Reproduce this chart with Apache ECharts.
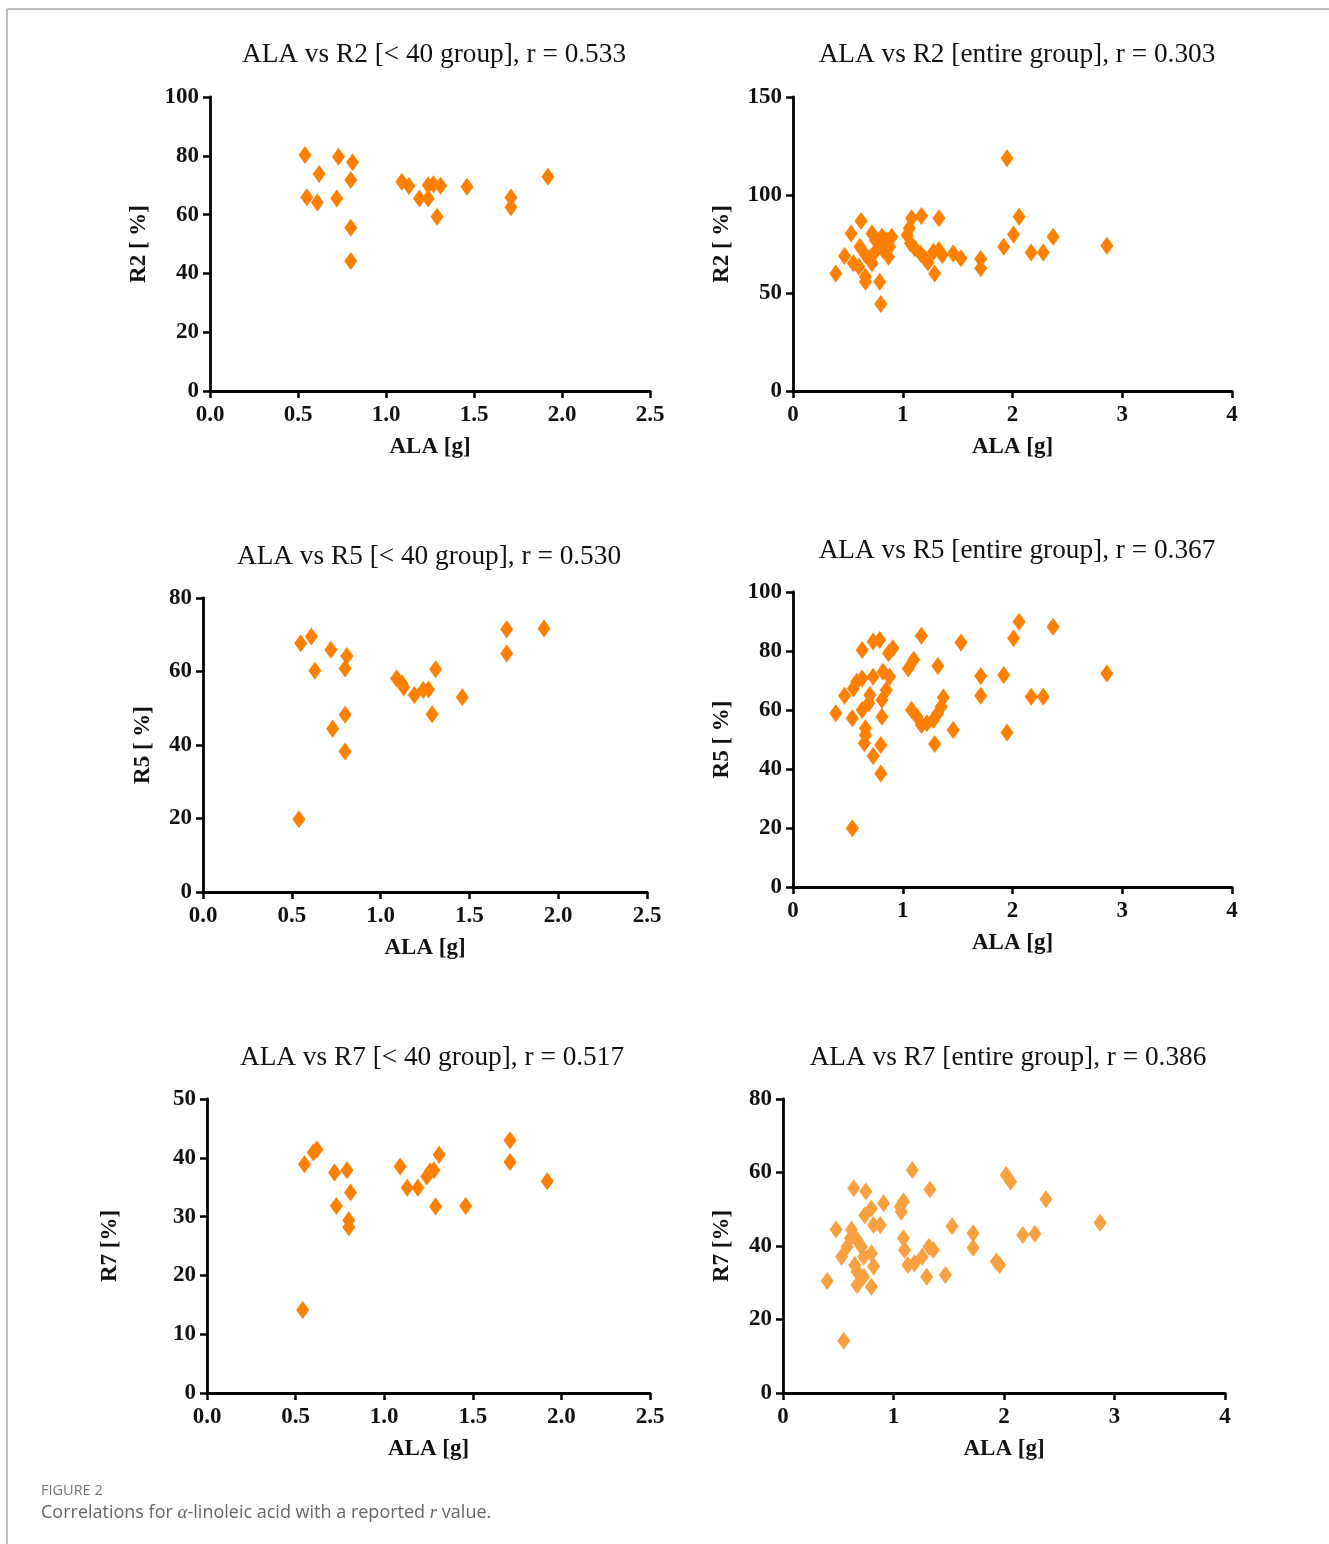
<!DOCTYPE html>
<html>
<head>
<meta charset="utf-8">
<script src="https://cdn.jsdelivr.net/npm/echarts@6/dist/echarts.min.js"></script>
<style>
html,body{margin:0;padding:0;background:#fff;}
#chart{width:1329px;height:1544px;}
</style>
</head>
<body>
<div id="chart"></div>
<script>
// ---- Data ----
// Panel 1: ALA vs R2 [< 40 group]
const ala_R2_lt40 = [0.54,0.73,0.81,0.62,0.80,0.55,0.61,0.72,0.80,0.80,1.09,1.13,1.19,1.24,1.24,1.27,1.31,1.29,1.46,1.71,1.71,1.92];
const r2_lt40     = [80.3,79.7,77.8,73.8,71.8,65.9,64.1,65.5,55.5,44.2,71.2,69.7,65.5,70.0,65.5,70.3,69.8,59.3,69.5,65.8,62.5,72.9];

// Panel 2: ALA vs R2 [entire group]
const ala_R2_all = [1.95,2.06,2.01,1.92,2.37,2.17,2.28,2.86,1.71,1.71,1.53,1.46,1.33,1.17,1.08,1.06,1.04,1.07,1.11,1.16,1.20,1.23,1.28,1.33,1.36,1.29,0.39,0.47,0.53,0.62,0.55,0.60,0.61,0.66,0.66,0.79,0.80,0.70,0.72,0.75,0.81,0.85,0.90,0.87,0.82,0.76,0.72,0.66,0.78,0.88];
const r2_all     = [118.7,88.9,79.9,73.6,78.7,70.6,70.6,74.1,67.3,62.6,67.7,70.2,88.1,89.3,88.1,83.0,79.6,75.4,72.8,70.2,67.7,65.5,71.1,71.9,69.4,60.0,60.0,68.9,80.4,86.7,65.2,63.4,73.6,58.3,55.8,55.8,44.4,67.7,80.4,77.0,78.7,77.0,78.7,68.5,71.9,71.9,65.2,69.4,75.4,73.6];

// Panel 3: ALA vs R5 [< 40 group]
const ala_R5_lt40 = [0.55,0.61,0.63,0.72,0.81,0.80,0.80,0.73,0.80,0.54,1.09,1.12,1.13,1.19,1.24,1.27,1.31,1.29,1.46,1.71,1.71,1.92];
const r5_lt40     = [67.7,69.5,60.2,65.9,64.2,60.8,48.2,44.4,38.2,19.8,58.1,56.8,55.7,53.6,55.0,55.1,60.6,48.4,53.0,71.5,64.9,71.7];

// Panel 4: ALA vs R5 [entire group]
const ala_R5_all = [2.06,2.01,2.37,2.86,1.92,1.71,1.71,2.17,2.28,1.95,1.53,1.17,1.32,1.10,1.05,1.37,1.46,1.29,1.08,1.13,1.17,1.22,1.28,1.32,1.35,0.39,0.47,0.54,0.63,0.73,0.79,0.87,0.91,0.58,0.63,0.55,0.73,0.82,0.88,0.70,0.85,0.81,0.69,0.63,0.81,0.66,0.66,0.65,0.80,0.73,0.80,0.54];
const r5_all     = [89.9,84.3,88.2,72.4,71.9,71.5,64.8,64.5,64.5,52.4,82.9,85.2,74.9,77.0,74.1,64.2,53.2,48.5,60.0,57.7,54.9,55.5,56.6,58.9,61.1,58.9,64.8,57.2,80.3,83.2,83.7,79.2,80.9,69.6,70.7,67.3,71.3,73.0,71.3,65.1,66.8,63.4,62.3,60.0,57.7,53.8,51.5,48.7,48.1,44.4,38.5,19.9];

// Panel 5: ALA vs R7 [< 40 group]
const ala_R7_lt40 = [0.62,0.60,0.55,0.72,0.79,0.81,0.73,0.80,0.80,0.54,1.09,1.13,1.19,1.24,1.26,1.28,1.31,1.29,1.46,1.71,1.71,1.92];
const r7_lt40     = [41.4,40.9,38.9,37.5,37.9,34.1,31.8,29.4,28.2,14.1,38.5,34.9,34.9,36.8,37.7,37.9,40.5,31.7,31.8,43.0,39.3,36.0];

// Panel 6: ALA vs R7 [entire group]
const ala_R7_all = [1.17,2.02,2.06,2.38,2.87,2.17,2.28,1.93,1.96,1.72,1.72,1.53,1.47,1.33,1.30,1.06,1.09,1.07,1.09,1.10,1.13,1.19,1.26,1.32,1.36,0.40,0.48,0.55,0.64,0.75,0.74,0.80,0.91,0.88,0.82,0.62,0.61,0.58,0.67,0.71,0.53,0.73,0.80,0.82,0.65,0.67,0.73,0.67,0.80];
const r7_all     = [60.7,59.3,57.5,52.7,46.3,43.0,43.3,35.8,34.8,43.5,39.5,45.4,32.1,55.4,31.6,50.7,52.1,49.3,42.1,38.9,34.8,35.3,37.1,39.8,38.9,30.5,44.5,14.2,55.7,54.8,48.4,50.2,51.6,45.7,45.7,44.4,42.1,39.8,41.6,39.8,37.1,37.1,38.0,34.4,34.8,33.0,31.6,29.4,28.9];

const titles = [
  "ALA vs R2 [< 40 group], r = 0.533",
  "ALA vs R2 [entire group], r = 0.303",
  "ALA vs R5 [< 40 group], r = 0.530",
  "ALA vs R5 [entire group], r = 0.367",
  "ALA vs R7 [< 40 group], r = 0.517",
  "ALA vs R7 [entire group], r = 0.386"
];
const yNames = ["R2 [ %]", "R2 [ %]", "R5 [ %]", "R5 [ %]", "R7 [%]", "R7 [%]"];
const xName = "ALA [g]";
const yMax = [100, 150, 80, 100, 50, 80];
const yStep = [20, 50, 20, 20, 10, 20];
const xMax = [2.5, 4, 2.5, 4, 2.5, 4];
const xStep = [0.5, 1, 0.5, 1, 0.5, 1];

const xs = [ala_R2_lt40, ala_R2_all, ala_R5_lt40, ala_R5_all, ala_R7_lt40, ala_R7_all];
const ys = [r2_lt40, r2_all, r5_lt40, r5_all, r7_lt40, r7_all];

// ---- Layout ----
const grids = [
  {left:210, top:97,   width:440, height:294},
  {left:793, top:97,   width:439, height:294},
  {left:203, top:598,  width:444, height:294},
  {left:793, top:592,  width:439, height:295},
  {left:207, top:1099, width:443, height:294},
  {left:783, top:1099, width:442, height:294}
];
const titlePos = [[429,36],[1012,36],[424,538],[1012,532],[427,1039],[1003,1039]];
const yNameGap = [59,59,48,59,85,49];
const colors = ['#FF7F00','#FF7F00','#FF7F00','#FF7F00','#FF7F00','#F9A040'];

const SERIF = "'Liberation Serif','Times New Roman',serif";
const axisLine = {show:true, lineStyle:{color:'#000', width:2.8}};
const axisTick = {show:true, length:7, lineStyle:{color:'#000', width:2.5}};

const chart = echarts.init(document.getElementById('chart'), null, {renderer:'canvas'});

const option = {
  backgroundColor:'#fff',
  animation:false,
  title: titles.map((t,i)=>({
    text:t, left:titlePos[i][0], top:titlePos[i][1], textAlign:'center',
    textStyle:{fontFamily:SERIF, fontSize:27.3, fontWeight:'normal', color:'#111'}
  })),
  grid: grids.map(g=>Object.assign({containLabel:false}, g)),
  xAxis: grids.map((g,i)=>({
    type:'value', gridIndex:i, min:0, max:xMax[i], interval:xStep[i],
    name:xName, nameLocation:'middle', nameGap:45,
    nameTextStyle:{fontFamily:SERIF, fontSize:23, fontWeight:'bold', color:'#111'},
    axisLine, axisTick, splitLine:{show:false},
    axisLabel:{fontFamily:SERIF, fontSize:23, fontWeight:'bold', color:'#111', margin:13,
      formatter: v => xStep[i] < 1 ? v.toFixed(1) : String(v)}
  })),
  yAxis: grids.map((g,i)=>({
    type:'value', gridIndex:i, min:0, max:yMax[i], interval:yStep[i],
    name:yNames[i], nameLocation:'middle', nameGap:yNameGap[i], nameRotate:90,
    nameTextStyle:{fontFamily:SERIF, fontSize:23, fontWeight:'bold', color:'#111'},
    axisLine, axisTick, splitLine:{show:false},
    axisLabel:{fontFamily:SERIF, fontSize:23, fontWeight:'bold', color:'#111', margin:11}
  })),
  series: xs.map((xv,i)=>({
    type:'scatter', xAxisIndex:i, yAxisIndex:i,
    symbol:'diamond', symbolSize:[13,18],
    itemStyle:{color:colors[i], opacity:1},
    data: xv.map((x,k)=>[x, ys[i][k]])
  })),
  graphic: [
    {type:'line', shape:{x1:7, y1:9, x2:1329, y2:9}, style:{stroke:'#aaa', lineWidth:1.5}},
    {type:'line', shape:{x1:7, y1:9, x2:7, y2:1544}, style:{stroke:'#aaa', lineWidth:1.5}},
    {type:'text', left:41, top:1483, style:{text:'FIGURE 2', fill:'#777', font:"500 14.5px 'Open Sans', 'Noto Sans', sans-serif"}},
    {type:'text', left:41, top:1503, style:{
      text:'Correlations for {i|α}-linoleic acid with a reported {i|r} value.',
      fill:'#666', font:"18px 'Open Sans', 'Noto Sans', sans-serif",
      rich:{i:{fontStyle:'italic', fontFamily:"'Liberation Serif', serif", fontSize:19, fill:'#666'}}
    }}
  ]
};
chart.setOption(option);
</script>
</body>
</html>
